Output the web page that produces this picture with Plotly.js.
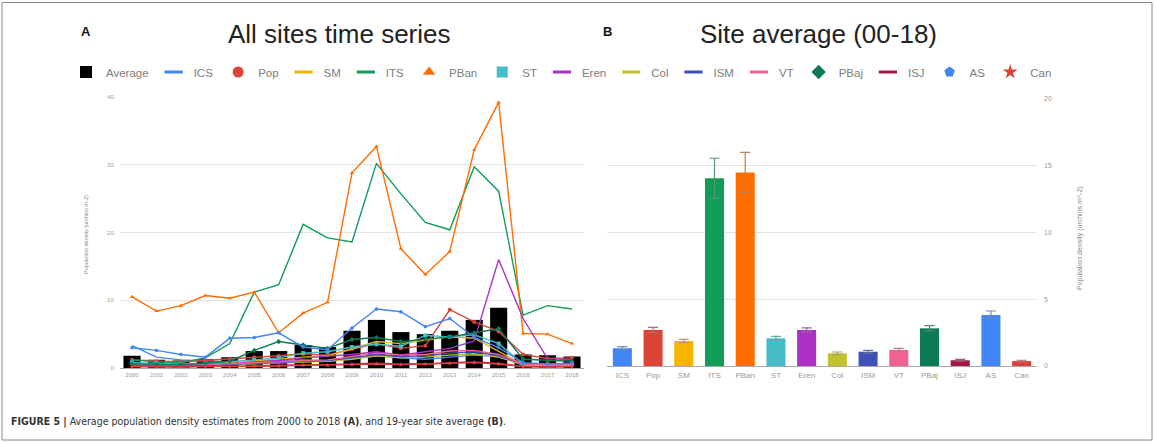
<!DOCTYPE html>
<html>
<head>
<meta charset="utf-8">
<script src="https://cdn.plot.ly/plotly-3.0.1.min.js"></script>
<style>
  html, body { margin: 0; padding: 0; background: #ffffff; }
  #chart { width: 1156px; height: 442px; }
</style>
</head>
<body>
<div id="chart"></div>
<script>
// Survey years (panel A categories)
const years = ['2000','2001','2002','2003','2004','2005','2006','2007','2008','2009',
               '2010','2011','2012','2013','2014','2015','2016','2017','2018'];

// Mean density over all sites for each year (black bars)
const yearlyAverage = [1.8, 1.2, 1.1, 1.3, 1.6, 2.5, 2.5, 3.4, 3.1, 5.5,
                       7.1, 5.3, 5.0, 5.5, 7.1, 8.9, 2.0, 1.9, 1.7];

// Yearly density per site (urchins m-2)
const icsSeries  = [3.3, 1.6, 1.2, 1.0, 0.9, 1.0, 1.1, 1.2, 1.0, 1.4, 1.8, 1.5, 1.3, 1.6, 1.9, 1.7, 0.4, 0.3, 0.4];
const popSeries  = [1.2, 1.0, 0.9, 1.1, 1.3, 1.6, 1.8, 2.1, 1.9, 2.8, 3.6, 2.9, 3.3, 8.6, 6.8, 5.4, 2.0, 1.4, 1.5];
const smSeries   = [0.6, 0.5, 0.5, 0.6, 0.8, 1.0, 1.3, 1.6, 1.8, 2.8, 3.9, 3.6, 4.1, 4.6, 4.4, 2.5, 0.5, 0.4, 0.5];
const itsSeries  = [1.2, 0.9, 0.8, 1.5, 3.6, 11.2, 12.3, 21.2, 19.2, 18.6, 30.2, 25.7, 21.5, 20.4, 29.7, 26.1, 7.8, 9.2, 8.7];
const pbanSeries = [10.5, 8.4, 9.2, 10.7, 10.3, 11.2, 5.2, 8.1, 9.7, 28.8, 32.7, 17.6, 13.8, 17.2, 32.2, 39.2, 5.1, 5.0, 3.6];
const stSeries   = [0.8, 0.7, 0.6, 0.7, 0.9, 1.2, 1.5, 2.2, 2.4, 3.1, 3.5, 3.2, 4.8, 4.6, 4.9, 3.6, 0.6, 0.5, 0.6];
const erenSeries = [0.5, 0.4, 0.4, 0.5, 0.6, 0.9, 1.1, 1.5, 1.7, 2.0, 2.4, 1.9, 2.4, 2.9, 4.0, 16.0, 7.3, 1.4, 1.2];
const colSeries  = [0.3, 0.3, 0.3, 0.4, 0.5, 0.6, 0.7, 0.9, 1.0, 1.3, 1.8, 1.5, 1.6, 1.9, 2.1, 1.6, 0.5, 0.4, 0.4];
const ismSeries  = [0.4, 0.3, 0.3, 0.4, 0.5, 0.7, 0.8, 1.0, 1.1, 1.5, 2.0, 1.7, 1.8, 2.2, 2.4, 1.8, 0.6, 0.5, 0.5];
const vtSeries   = [0.5, 0.4, 0.4, 0.5, 0.6, 0.8, 0.9, 1.1, 1.2, 1.7, 2.2, 1.9, 2.0, 2.5, 2.6, 2.0, 0.6, 0.5, 0.5];
const pbajSeries = [0.6, 0.5, 0.5, 0.7, 1.0, 2.6, 3.9, 3.4, 2.9, 4.2, 4.5, 3.9, 4.2, 4.6, 5.2, 5.8, 1.3, 1.1, 1.0];
const isjSeries  = [0.2, 0.2, 0.2, 0.2, 0.3, 0.3, 0.4, 0.4, 0.5, 0.6, 0.7, 0.6, 0.6, 0.8, 0.9, 0.7, 0.2, 0.2, 0.2];
const asSeries   = [3.0, 2.6, 2.0, 1.6, 4.4, 4.5, 5.2, 3.1, 2.7, 5.9, 8.7, 8.3, 6.1, 7.3, 4.5, 3.0, 0.8, 0.6, 0.7];
const canSeries  = [0.2, 0.1, 0.1, 0.2, 0.2, 0.3, 0.3, 0.4, 0.4, 0.5, 0.6, 0.5, 0.6, 0.7, 0.8, 0.6, 0.2, 0.1, 0.2];

// Sites (panel B categories) and their styling
const siteNames   = ['ICS','Pop','SM','ITS','PBan','ST','Eren','Col','ISM','VT','PBaj','ISJ','AS','Can'];
const siteColors  = ['#4285F4','#DB4437','#F4B400','#0F9D58','#FF6D00','#46BDC6','#AB30C4',
                     '#C2C22E','#3F51B5','#F06292','#0B7A55','#A3144A','#4285F4','#E0403A'];
const siteSymbols = [null,'circle',null,null,'triangle-up','square',null,null,null,null,'diamond',null,'pentagon','star'];
const siteSeries  = [icsSeries, popSeries, smSeries, itsSeries, pbanSeries, stSeries, erenSeries,
                     colSeries, ismSeries, vtSeries, pbajSeries, isjSeries, asSeries, canSeries];

// 19-year site average and its error (panel B)
const siteAverage = [1.33, 2.70, 1.87, 14.06, 14.50, 2.07, 2.70, 0.95, 1.07, 1.20, 2.82, 0.43, 3.82, 0.37];
const siteError   = [0.12, 0.20, 0.12, 1.50, 1.50, 0.15, 0.15, 0.10, 0.10, 0.12, 0.20, 0.06, 0.30, 0.06];

// Page geometry helpers (paper covers the whole page: zero margins)
const W = 1156, H = 442;
const px = v => v / W;
const py = v => 1 - v / H;

// Blend a hex colour toward grey for the interval whiskers
function whisker(hex) {
  const n = parseInt(hex.slice(1), 16);
  const r = (n >> 16) & 255, g = (n >> 8) & 255, b = n & 255;
  const m = (c) => Math.round(c * 0.4 + 140 * 0.6);
  return 'rgb(' + m(r) + ',' + m(g) + ',' + m(b) + ')';
}

const traces = [];

// Panel A: yearly average bars
traces.push({
  type: 'bar', name: 'Average', x: years, y: yearlyAverage,
  marker: { color: '#000000' }, width: 0.7,
  xaxis: 'x', yaxis: 'y', showlegend: true, hoverinfo: 'x+y'
});

// Panel A: one line per site
siteNames.forEach((name, i) => {
  const sym = siteSymbols[i];
  traces.push({
    type: 'scatter', mode: sym ? 'lines+markers' : 'lines',
    name: name, x: years, y: siteSeries[i],
    line: { color: siteColors[i], width: 1.4 },
    marker: { symbol: sym || 'circle', size: 4, color: siteColors[i] },
    xaxis: 'x', yaxis: 'y', showlegend: false
  });
});

// Legend keys: short dash for plain lines, the point shape otherwise
siteNames.forEach((name, i) => {
  const sym = siteSymbols[i];
  traces.push({
    type: 'scatter', mode: 'markers', name: name, x: [null], y: [null],
    marker: sym
      ? { symbol: sym, size: 11, color: siteColors[i] }
      : { symbol: 'line-ew', size: 13, color: siteColors[i], line: { color: siteColors[i], width: 3 } },
    xaxis: 'x', yaxis: 'y', showlegend: true, hoverinfo: 'skip'
  });
});

// Panel B: one bar per site with its interval
siteNames.forEach((name, i) => {
  traces.push({
    type: 'bar', name: name, x: [name], y: [siteAverage[i]],
    marker: { color: siteColors[i] }, width: 0.62,
    error_y: { type: 'data', array: [siteError[i]], visible: true,
               color: whisker(siteColors[i]), thickness: 1.2, width: 5 },
    xaxis: 'x2', yaxis: 'y2', showlegend: false
  });
});

const tickGrey = '#9a9a9a';
const gridGrey = '#e3e3e3';
const baseGrey = '#a8a8a8';
const baseFont = 'Arial, "Liberation Sans", sans-serif';

function label(text, x, y, size, color, extra) {
  return Object.assign({
    text: text, x: px(x), y: py(y), xref: 'paper', yref: 'paper',
    xanchor: 'center', yanchor: 'middle', showarrow: false,
    font: { family: baseFont, size: size, color: color }
  }, extra || {});
}

const layout = {
  width: W, height: H,
  margin: { l: 0, r: 0, t: 0, b: 0 },
  paper_bgcolor: '#ffffff', plot_bgcolor: '#ffffff',
  font: { family: baseFont, color: '#444' },
  barmode: 'overlay',
  showlegend: true,
  legend: {
    orientation: 'h', x: px(66), xanchor: 'left', y: py(72), yanchor: 'middle',
    font: { family: baseFont, size: 11.5, color: '#7d7d7d' },
    itemsizing: 'trace', bgcolor: 'rgba(0,0,0,0)', traceorder: 'normal'
  },
  xaxis: {
    domain: [px(119.8), px(584.2)], anchor: 'y', type: 'category',
    range: [-0.5, 18.5], showgrid: false, showline: false, zeroline: false, ticks: '',
    tickfont: { family: baseFont, size: 6, color: tickGrey }, ticklabelstandoff: 2, fixedrange: true
  },
  yaxis: {
    domain: [py(368), py(97)], anchor: 'x', range: [0, 40], dtick: 10,
    showgrid: true, gridcolor: gridGrey, gridwidth: 1,
    zeroline: true, zerolinecolor: baseGrey, zerolinewidth: 1,
    showline: false, ticks: '', ticklabelstandoff: 5,
    tickfont: { family: baseFont, size: 6, color: tickGrey }, fixedrange: true
  },
  xaxis2: {
    domain: [px(607), px(1037)], anchor: 'y2', type: 'category',
    range: [-0.5, 13.5], showgrid: false, showline: false, zeroline: false, ticks: '',
    tickfont: { family: baseFont, size: 8, color: tickGrey }, ticklabelstandoff: 3, fixedrange: true
  },
  yaxis2: {
    domain: [py(366), py(99)], anchor: 'x2', side: 'right', range: [0, 20], dtick: 5,
    showgrid: true, gridcolor: gridGrey, gridwidth: 1,
    zeroline: true, zerolinecolor: baseGrey, zerolinewidth: 1,
    showline: false, ticks: '', ticklabelstandoff: 6,
    tickfont: { family: baseFont, size: 7, color: tickGrey }, fixedrange: true
  },
  shapes: [
    { type: 'rect', xref: 'paper', yref: 'paper',
      x0: px(2), x1: px(1152), y0: py(440), y1: py(2.5),
      line: { color: '#8a8a8a', width: 1 }, fillcolor: 'rgba(0,0,0,0)' }
  ],
  annotations: [
    label('<b>A</b>', 86, 32, 13, '#111'),
    label('All sites time series', 339, 34, 26, '#222'),
    label('<b>B</b>', 607, 32, 13, '#111'),
    label('Site average (00-18)', 818, 34, 26, '#222'),
    label('Population density (urchins m-2)', 86, 235, 5.5, '#8a8a8a', { textangle: -90 }),
    label('Population density (urchins m^-2)', 1080, 238, 7, '#8a8a8a', { textangle: -90 }),
    label('<b>FIGURE 5 |</b> Average population density estimates from 2000 to 2018 <b>(A)</b>, and 19-year site average <b>(B)</b>.',
          9, 421, 10.5, '#333',
          { xanchor: 'left',
            font: { family: '"DejaVu Sans Condensed", "Liberation Sans Narrow", Arial, sans-serif', size: 10.5, color: '#333' } })
  ]
};

Plotly.newPlot('chart', traces, layout, { displayModeBar: false, staticPlot: true });
</script>
</body>
</html>
